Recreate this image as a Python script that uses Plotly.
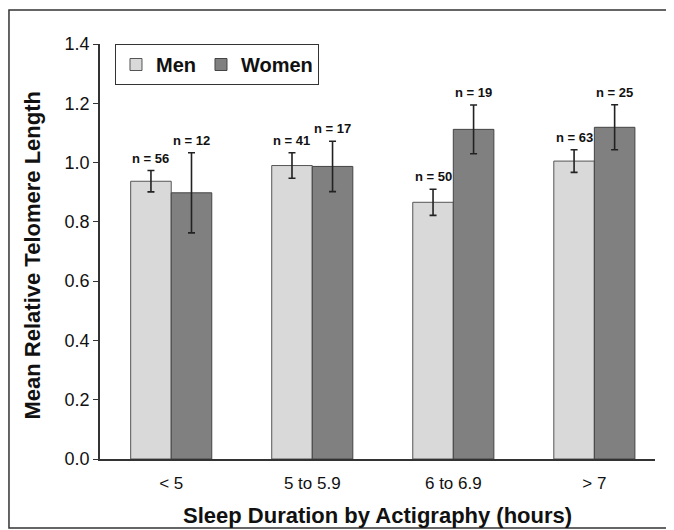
import plotly.graph_objects as go

categories = ["< 5", "5 to 5.9", "6 to 6.9", "> 7"]
men_values = [0.937, 0.990, 0.866, 1.005]
men_err = [0.036, 0.043, 0.044, 0.038]
men_n = [56, 41, 50, 63]
women_values = [0.898, 0.987, 1.112, 1.119]
women_err = [0.135, 0.085, 0.082, 0.076]
women_n = [12, 17, 19, 25]
y_ticks = [0.0, 0.2, 0.4, 0.6, 0.8, 1.0, 1.2, 1.4]

FONT = "Liberation Sans, Arial, sans-serif"

fig = go.Figure()
fig.add_trace(go.Bar(
    name="Men", x=categories, y=men_values,
    marker=dict(color="#d9d9d9", line=dict(color="#555555", width=1)),
    error_y=dict(type="data", array=men_err, color="#222222", thickness=1.6, width=3.5),
))
fig.add_trace(go.Bar(
    name="Women", x=categories, y=women_values,
    marker=dict(color="#808080", line=dict(color="#444444", width=1)),
    error_y=dict(type="data", array=women_err, color="#222222", thickness=1.6, width=3.5),
))

for i, c in enumerate(categories):
    fig.add_annotation(x=i - 0.144, y=men_values[i] + men_err[i], text=f"n = {men_n[i]}",
                       showarrow=False, yanchor="bottom", yshift=3,
                       font=dict(family=FONT, size=13, color="#111111", weight="bold"))
    fig.add_annotation(x=i + 0.144, y=women_values[i] + women_err[i], text=f"n = {women_n[i]}",
                       showarrow=False, yanchor="bottom", yshift=3,
                       font=dict(family=FONT, size=13, color="#111111", weight="bold"))

# axis titles
fig.add_annotation(xref="paper", yref="paper", x=0.5, y=-0.135, yanchor="middle",
                   text="Sleep Duration by Actigraphy (hours)", showarrow=False,
                   font=dict(family=FONT, size=22, color="#111111", weight="bold"))
fig.add_annotation(xref="paper", yref="paper", x=-0.121, y=0.49, xanchor="center",
                   yanchor="middle", textangle=-90,
                   text="Mean Relative Telomere Length", showarrow=False,
                   font=dict(family=FONT, size=22, color="#111111", weight="bold"))

fig.add_shape(type="rect", xref="paper", yref="paper",
              x0=-0.164, x1=1.029, y0=-0.166, y1=1.082,
              line=dict(color="#333333", width=1.5))

fig.update_layout(
    width=666, height=522,
    margin=dict(l=92, r=19, t=36, b=71, autoexpand=False),
    paper_bgcolor="white", plot_bgcolor="white",
    barmode="group", bargap=0.425, bargroupgap=0,
    font=dict(family=FONT, color="#111111"),
    showlegend=True,
    legend=dict(orientation="h", x=0.027, y=1.0, xanchor="left", yanchor="top",
                bordercolor="#333333", borderwidth=1, bgcolor="white",
                font=dict(family=FONT, size=20, color="#111111", weight="bold"),
                itemwidth=30, traceorder="normal"),
    xaxis=dict(type="category", range=[-0.505, 3.43], showline=True, linecolor="#333333",
               linewidth=1.5, ticks="", automargin=False, ticklabelstandoff=8,
               tickfont=dict(family=FONT, size=17, color="#111111"),
               showgrid=False, zeroline=False),
    yaxis=dict(range=[0, 1.4], tickvals=y_ticks, ticktext=[f"{v:.1f}" for v in y_ticks],
               showline=True, linecolor="#333333", linewidth=1.5, ticks="outside",
               ticklen=5, tickcolor="#333333", automargin=False,
               tickfont=dict(family=FONT, size=18, color="#111111"),
               showgrid=False, zeroline=False),
)

fig.write_html("out.html")
